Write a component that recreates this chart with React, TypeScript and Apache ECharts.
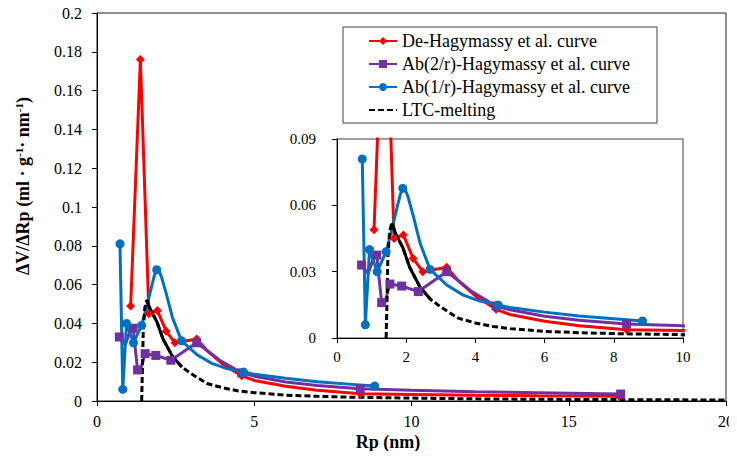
import React, { useEffect, useRef } from "react";
import * as echarts from "echarts";

const FONT = "Liberation Serif";

// De-Hagymassy et al. curve
const deX = [1.07, 1.38, 1.65, 1.92, 2.2, 2.48, 3.17, 3.5, 4.0, 4.6, 5.0, 6.0, 7.0, 8.37, 10.0, 12.0, 14.0, 16.6];
const deY = [0.049, 0.176, 0.045, 0.0466, 0.036, 0.030, 0.032, 0.026, 0.019, 0.013, 0.0106, 0.0076, 0.0055, 0.0037, 0.0034, 0.003, 0.0027, 0.0024];
const deMark = [1, 1, 1, 1, 1, 1, 1, 0, 0, 1, 0, 0, 0, 1, 0, 0, 0, 1];

// Ab(2/r)-Hagymassy et al. curve
const ab2X = [0.71, 0.9, 1.05, 1.15, 1.21, 1.29, 1.38, 1.53, 1.87, 2.35, 3.17, 3.5, 3.9, 4.6, 5.0, 6.0, 7.0, 8.37, 10.0, 12.0, 14.0, 16.65];
const ab2Y = [0.033, 0.029, 0.036, 0.0375, 0.028, 0.016, 0.016, 0.0244, 0.0235, 0.021, 0.030, 0.026, 0.021, 0.0145, 0.0128, 0.0098, 0.008, 0.0063, 0.0055, 0.0048, 0.0043, 0.0036];
const ab2Mark = [1, 0, 0, 1, 0, 1, 0, 1, 1, 1, 1, 0, 0, 1, 0, 0, 0, 1, 0, 0, 0, 1];

// Ab(1/r)-Hagymassy et al. curve
const ab1X = [0.73, 0.82, 0.94, 1.16, 1.42, 1.6, 1.75, 1.83, 1.9, 1.98, 2.05, 2.2, 2.4, 2.69, 3.17, 3.65, 4.13, 4.66, 5.0, 6.0, 7.0, 8.0, 8.83];
const ab1Y = [0.081, 0.006, 0.040, 0.030, 0.039, 0.050, 0.060, 0.065, 0.0677, 0.0668, 0.064, 0.0555, 0.043, 0.031, 0.024, 0.0194, 0.0167, 0.0149, 0.0138, 0.0117, 0.0099, 0.0087, 0.0077];
const ab1Mark = [1, 1, 1, 1, 1, 0, 0, 0, 1, 0, 0, 0, 0, 1, 0, 0, 0, 1, 0, 0, 0, 0, 1];

// LTC-melting
const ltcX = [1.42, 1.45, 1.47, 1.52, 1.58, 1.7, 1.9, 2.1, 2.4, 2.7, 3.0, 3.5, 4.0, 4.5, 5.0, 6.0, 7.0, 8.0, 10.0, 12.0, 15.0, 20.0];
const ltcY = [0, 0.02, 0.0366, 0.048, 0.052, 0.047, 0.041, 0.032, 0.023, 0.0175, 0.014, 0.009, 0.0068, 0.0052, 0.0043, 0.003, 0.0024, 0.002, 0.0015, 0.0011, 0.0008, 0.0005];
const ltcSolidFrom = 4;
const ltcSolidTo = 9;

const names = [
  "De-Hagymassy et al. curve",
  "Ab(2/r)-Hagymassy et al. curve",
  "Ab(1/r)-Hagymassy et al. curve",
  "LTC-melting",
];
const colors = ["#FF0000", "#7030A0", "#0070C0", "#000000"];

const xTitle = "Rp (nm)";
const yTitle = "{b|ΔV/ΔRp (ml · g}{s|-1}{b|· nm}{s|-1}{b|)}";

const mainXTicks = { min: 0, max: 20, interval: 5 };
const mainYTicks = { min: 0, max: 0.2, interval: 0.02 };
const insetXTicks = { min: 0, max: 10, interval: 2 };
const insetYTicks = { min: 0, max: 0.09, interval: 0.03 };

function pts(xs: number[], ys: number[], marks?: number[]) {
  return xs.map((x, i) =>
    !marks || marks[i] ? [x, ys[i]] : { value: [x, ys[i]], symbol: "none" }
  );
}

function seriesFor(idx: number) {
  const common = { xAxisIndex: idx, yAxisIndex: idx, clip: true };
  return [
    {
      ...common,
      type: "line",
      name: names[0],
      data: pts(deX, deY, deMark),
      symbol: "diamond",
      symbolSize: 9,
      lineStyle: { color: colors[0], width: 3 },
      itemStyle: { color: colors[0] },
    },
    {
      ...common,
      type: "line",
      name: names[1],
      data: pts(ab2X, ab2Y, ab2Mark),
      symbol: "rect",
      symbolSize: 9,
      lineStyle: { color: colors[1], width: 3 },
      itemStyle: { color: colors[1] },
    },
    {
      ...common,
      type: "line",
      name: names[2],
      data: pts(ab1X, ab1Y, ab1Mark),
      symbol: "circle",
      symbolSize: 9,
      lineStyle: { color: colors[2], width: 3 },
      itemStyle: { color: colors[2] },
    },
    {
      ...common,
      type: "line",
      name: names[3],
      data: pts(ltcX, ltcY),
      symbol: "none",
      lineStyle: { color: colors[3], width: 3, type: [6, 3] },
      itemStyle: { color: colors[3] },
    },
    {
      ...common,
      type: "line",
      name: names[3],
      data: pts(ltcX.slice(ltcSolidFrom, ltcSolidTo + 1), ltcY.slice(ltcSolidFrom, ltcSolidTo + 1)),
      symbol: "none",
      lineStyle: { color: colors[3], width: 3 },
      itemStyle: { color: colors[3] },
    },
  ];
}

const axisCommon = {
  axisLine: { show: true, onZero: false, lineStyle: { color: "#000", width: 1 } },
  axisTick: { show: true, inside: false, length: 5, lineStyle: { color: "#000" } },
  splitLine: { show: false },
};

const lbl = (size: number, margin: number) => ({
  fontFamily: FONT,
  fontSize: size,
  color: "#000",
  margin,
});

export default function App() {
  const ref = useRef<HTMLDivElement>(null);
  useEffect(() => {
    if (!ref.current) return;
    const chart = echarts.init(ref.current, null, { renderer: "svg" });
    chart.setOption({
      animation: false,
      backgroundColor: "#fff",
      textStyle: { fontFamily: FONT },
      grid: [
        { left: 97, top: 13, right: 11, bottom: 58, show: true, borderColor: "#222", borderWidth: 1 },
        { left: 337, top: 139, right: 54, bottom: 121, show: true, borderColor: "#808080", borderWidth: 1.5 },
      ],
      xAxis: [
        { type: "value", gridIndex: 0, ...mainXTicks, ...axisCommon, axisLabel: lbl(16, 12) },
        { type: "value", gridIndex: 1, ...insetXTicks, ...axisCommon, axisLabel: lbl(15, 11) },
      ],
      yAxis: [
        { type: "value", gridIndex: 0, ...mainYTicks, ...axisCommon, axisLabel: lbl(16, 15) },
        { type: "value", gridIndex: 1, ...insetYTicks, ...axisCommon, axisLabel: lbl(15, 21) },
      ],
      legend: {
        data: [
          names[0],
          names[1],
          names[2],
          { name: names[3], itemStyle: { opacity: 0 } },
        ],
        orient: "vertical",
        left: 368,
        top: 32,
        padding: 0,
        itemWidth: 28,
        itemHeight: 10,
        itemGap: 5,
        textStyle: { fontFamily: FONT, fontSize: 18, color: "#000", lineHeight: 18 },
        selectedMode: false,
      },
      graphic: [
        {
          type: "rect",
          shape: { x: 343, y: 27, width: 314, height: 96 },
          style: { fill: "#fff", stroke: "#404040", lineWidth: 1 },
          z: -1,
          silent: true,
        },
        {
          type: "text",
          x: 388,
          y: 442,
          silent: true,
          style: {
            text: xTitle,
            font: `bold 18px ${FONT}`,
            fill: "#000",
            align: "center",
            verticalAlign: "middle",
          },
        },
        {
          type: "text",
          x: 23,
          y: 186,
          rotation: Math.PI / 2,
          silent: true,
          style: {
            text: yTitle,
            align: "center",
            verticalAlign: "middle",
            fill: "#000",
            rich: {
              b: { fontFamily: FONT, fontSize: 18, fontWeight: "bold", fill: "#000", color: "#000" },
              s: { fontFamily: FONT, fontSize: 11, fontWeight: "bold", fill: "#000", color: "#000", verticalAlign: "top", padding: [0, 0, 8, 0] },
            },
          },
        },
      ],
      series: [...seriesFor(0), ...seriesFor(1)],
    });
    return () => chart.dispose();
  }, []);
  return <div ref={ref} style={{ width: 737, height: 459, margin: -8 }} />;
}
